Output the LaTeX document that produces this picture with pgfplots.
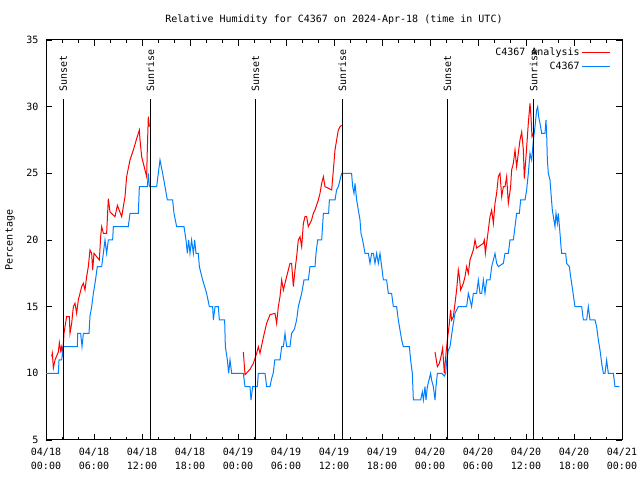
\documentclass[border=0pt]{standalone}
\usepackage{pgfplots}
\pgfplotsset{compat=1.18}
\usepackage{fontspec}
\setmainfont{DejaVu Sans Mono}
\definecolor{anared}{RGB}{255,0,0}
\definecolor{obsblue}{RGB}{0,128,255}
\newcommand{\gf}{\fontsize{10bp}{14bp}\selectfont}
\begin{document}
\begin{tikzpicture}
\path[use as bounding box] (0bp,0bp) rectangle (640bp,480bp);
\begin{axis}[
  at={(46bp,40bp)}, anchor=south west,
  scale only axis, width=576bp, height=400bp,
  xmin=0, xmax=72, ymin=5, ymax=35,
  xtick={0,6,...,72},
  xticklabels={{04/18\\00:00},{04/18\\06:00},{04/18\\12:00},{04/18\\18:00},{04/19\\00:00},{04/19\\06:00},{04/19\\12:00},{04/19\\18:00},{04/20\\00:00},{04/20\\06:00},{04/20\\12:00},{04/20\\18:00},{04/21\\00:00}},
  minor x tick num=2,
  ytick={5,10,...,35},
  major tick length=6bp, minor tick length=3bp,
  tick align=inside,
  axis line style={line width=1bp},
  every tick/.style={black, line width=0.8bp},
  /pgf/number format/assume math mode=true,
  tick label style={font=\gf},
  xticklabel style={align=center, yshift=-5bp},
  yticklabel style={xshift=-4bp},
  title={Relative Humidity for C4367 on 2024-Apr-18 (time in UTC)},
  title style={font=\gf, at={(axis description cs:0.5,1)}, anchor=center, yshift=14bp},
  ylabel={Percentage},
  ylabel style={font=\gf, at={(axis description cs:0,0.5)}, anchor=center, yshift=36bp},
  legend cell align=right,
  legend plot pos=right,
  legend image code/.code={\draw[#1, line width=1.2bp] (0bp,0bp) -- (28bp,0bp);},
  legend style={draw=none, fill=none, font=\gf, at={(axis description cs:1,1)}, anchor=north east, xshift=-8bp, yshift=-3bp, row sep=0pt,
    nodes={text height=8bp, text depth=2bp, inner sep=2bp}},
  clip=true,
]
% Analysis (red), three segments
\addplot[color=anared, line width=1bp] coordinates {
(0.71,11.25) (0.79,11.5) (0.92,10.4) (1.125,11) (1.54,11.6) (1.67,12.3) (1.83,11.7) (1.96,12) (2.08,11.25)
(2.25,13) (2.375,13.5) (2.58,14.25) (2.92,14.25) (3.0,13) (3.21,13.75) (3.42,15) (3.625,15.25) (3.83,14.5)
(4.04,15.5) (4.46,16.5) (4.67,16.75) (4.875,16.25) (5.08,17.25) (5.29,18) (5.5,19.25) (5.71,19) (5.83,17.75)
(6.0,19) (6.67,18.5) (6.83,20.25) (6.96,21) (7.17,20.5) (7.58,20.5) (7.79,23.1) (8.0,22.1) (8.625,21.75)
(8.92,22.6) (9.46,21.75) (9.875,23.25) (10.08,24.75) (10.5,26) (10.92,26.75) (11.33,27.6) (11.67,28.25)
(11.75,27.5) (11.96,26.25) (12.375,25.25) (12.58,24.75) (12.67,26.9) (12.79,29.25) (12.92,28.5)
};
\addlegendentry{C4367 Analysis}
\addplot[color=anared, line width=1bp, forget plot] coordinates {
(24.67,11.6) (24.875,9.9) (25.5,10.3) (25.92,10.75) (26.33,11.5) (26.54,12) (26.75,11.5) (27.17,12.7)
(27.58,13.75) (28.0,14.4) (28.625,14.5) (28.83,13.75) (29.04,15) (29.25,15.75) (29.46,17) (29.67,16.25)
(30.08,17.25) (30.5,18.25) (30.7,18.25) (30.92,16.5) (31.125,17.75) (31.33,18.75) (31.54,20) (31.75,20.25)
(31.96,19.5) (32.17,21.25) (32.375,21.75) (32.58,21.75) (32.79,21) (33.2,21.5) (33.42,22) (33.625,22.25)
(34.04,23) (34.25,23.5) (34.46,24.25) (34.67,24.75) (34.875,24) (35.71,23.75) (35.92,25.25) (36.125,26.75)
(36.33,27.5) (36.54,28.25) (36.75,28.5) (36.96,28.6)
};
\addplot[color=anared, line width=1bp, forget plot] coordinates {
(48.625,11.6) (48.92,10.5) (49.17,10.75) (49.375,11.25) (49.58,11.9) (49.79,10) (50.0,11.5) (50.17,12.5)
(50.42,13.75) (50.58,14.75) (50.7,14) (50.92,14.25) (51.125,15.25) (51.33,16.25) (51.54,17.75) (51.67,17.25)
(51.83,16.25) (52.17,16.75) (52.375,17.25) (52.58,18) (52.79,17.5) (53.0,18.5) (53.42,19.25) (53.625,20)
(53.83,19.4) (54.67,19.75) (54.79,20) (54.92,19) (55.08,19.75) (55.29,20.75) (55.5,21.75) (55.71,22.25)
(55.92,21.25) (56.125,22.75) (56.33,23.5) (56.54,24.75) (56.75,25) (56.96,23.25) (57.17,24) (57.375,24)
(57.58,24.75) (57.79,22.75) (58.08,24) (58.2,25.25) (58.42,25.75) (58.625,26.75) (58.83,25.5) (59.04,26.5)
(59.25,27.5) (59.46,28.1) (59.67,26.75) (59.79,24.6) (60.0,26.25) (60.29,28.75) (60.5,30.25) (60.625,29.25)
(60.75,27.75) (60.92,28)
};
% Observations (blue)
\addplot[color=obsblue, line width=1bp] coordinates {
(0,10) (1.54,10) (1.63,11) (1.96,11) (2.17,12) (3.0,12) (3.92,12) (3.96,13) (4.33,13) (4.5,12) (4.67,13)
(5.375,13) (5.5,14.3) (5.71,15) (5.92,16) (6.125,16.75) (6.42,18) (6.96,18) (7.17,19) (7.375,20) (7.58,19)
(7.79,20) (8.33,20) (8.42,21) (10.29,21) (10.5,22) (11.54,22) (11.67,24) (12.67,24) (12.79,25) (12.92,24)
(13.83,24) (14.04,25) (14.25,26) (14.58,25) (14.875,24) (15.17,23) (15.83,23) (16.0,22) (16.33,21)
(17.25,21) (17.5,20) (17.67,19) (17.83,20) (18.0,19) (18.2,20) (18.42,19) (18.58,20) (18.75,19) (19.04,19)
(19.17,18) (19.58,17) (20.08,16) (20.42,15) (20.83,15) (20.92,14) (21.13,15) (21.54,15) (21.67,14)
(22.33,14) (22.42,12) (22.67,11) (22.83,10) (23.0,11) (23.21,10) (24.67,10) (24.875,9) (25.5,9) (25.625,8)
(25.83,9) (26.42,9) (26.54,10) (27.375,10) (27.58,9) (28.0,9) (28.2,9.6) (28.4,10) (28.6,11) (29.25,11)
(29.46,12) (29.67,12) (29.875,13) (30.08,12) (30.5,12) (30.7,13) (31.04,13.3) (31.33,14) (31.54,15)
(31.75,15.5) (31.96,16) (32.25,17) (32.79,17) (33.0,18) (33.625,18) (33.75,19) (33.96,20) (34.46,20)
(34.67,22) (35.33,22) (35.42,23) (36.125,23) (36.33,23.75) (36.54,24) (36.75,24.5) (36.96,25) (38.2,25)
(38.33,24) (38.5,23.5) (38.625,24.25) (38.83,23) (39.04,22.25) (39.25,21.5) (39.375,20.5) (39.58,20)
(39.875,19) (40.29,19) (40.5,18.25) (40.71,19) (40.92,19) (41.125,18.25) (41.33,19) (41.54,18.25)
(41.75,19) (41.96,18) (42.17,17) (42.58,17) (42.79,16) (43.2,16) (43.42,15) (43.83,15) (44.04,14)
(44.25,13.25) (44.46,12.5) (44.67,12) (45.42,12) (45.58,11) (45.79,10) (45.92,8) (46.83,8) (47.04,8.6)
(47.17,8) (47.375,9) (47.5,8) (47.67,9) (47.875,9.5) (48.08,10) (48.2,9.5) (48.42,9) (48.625,8) (48.75,9)
(48.92,10) (49.46,10) (49.79,9.8) (49.96,10) (50.08,10.9) (50.29,11.75) (50.5,12) (50.71,12.9)
(50.92,13.75) (51.125,14.5) (51.54,15) (52.58,15) (52.79,16) (53.0,15.5) (53.2,15) (53.42,16) (53.83,16)
(54.04,17) (54.25,16) (54.46,16) (54.67,17) (54.875,16) (55.08,17) (55.5,17) (55.71,18) (55.92,18.5)
(56.125,19) (56.33,18.25) (56.54,18) (57.17,18.25) (57.375,19) (57.79,19) (58.0,20) (58.42,20)
(58.625,21) (58.83,22) (59.17,22) (59.33,23) (59.875,23) (60.08,23.75) (60.29,25) (60.5,26.5) (60.71,26)
(60.92,27.5) (61.125,28.5) (61.33,29.75) (61.46,30) (61.58,29.25) (61.75,28.75) (61.96,28) (62.375,28)
(62.5,29) (62.58,28) (62.67,26) (62.79,25) (63.0,24.5) (63.125,23.5) (63.29,22.25) (63.42,21.75)
(63.625,21) (63.75,22) (63.92,21.25) (64.04,22) (64.25,20.5) (64.375,19.5) (64.46,19) (64.96,19)
(65.08,18.25) (65.42,18) (65.58,17.25) (65.83,16.25) (66.0,15.5) (66.125,15) (66.96,15) (67.17,14)
(67.58,14) (67.79,15) (68.0,14) (68.625,14) (68.83,13.5) (69.04,12.5) (69.25,11.75) (69.46,10.75)
(69.67,10) (69.875,10) (70.08,11) (70.29,10) (70.92,10) (71.125,9) (71.67,9)
};
\addlegendentry{C4367}
% Sunset / sunrise markers
\addplot[black, line width=1bp, forget plot] coordinates {(2.17,5) (2.17,30.6)};
\addplot[black, line width=1bp, forget plot] coordinates {(13.04,5) (13.04,30.6)};
\addplot[black, line width=1bp, forget plot] coordinates {(26.2,5) (26.2,30.6)};
\addplot[black, line width=1bp, forget plot] coordinates {(37.04,5) (37.04,30.6)};
\addplot[black, line width=1bp, forget plot] coordinates {(50.17,5) (50.17,30.6)};
\addplot[black, line width=1bp, forget plot] coordinates {(60.96,5) (60.96,30.6)};
\node[rotate=90, anchor=west, inner sep=0pt, font=\gf] at (axis cs:2.17,31.1) {Sunset};
\node[rotate=90, anchor=west, inner sep=0pt, font=\gf] at (axis cs:13.04,31.1) {Sunrise};
\node[rotate=90, anchor=west, inner sep=0pt, font=\gf] at (axis cs:26.2,31.1) {Sunset};
\node[rotate=90, anchor=west, inner sep=0pt, font=\gf] at (axis cs:37.04,31.1) {Sunrise};
\node[rotate=90, anchor=west, inner sep=0pt, font=\gf] at (axis cs:50.17,31.1) {Sunset};
\node[rotate=90, anchor=west, inner sep=0pt, font=\gf] at (axis cs:60.96,31.1) {Sunrise};
\end{axis}
\end{tikzpicture}
\end{document}
